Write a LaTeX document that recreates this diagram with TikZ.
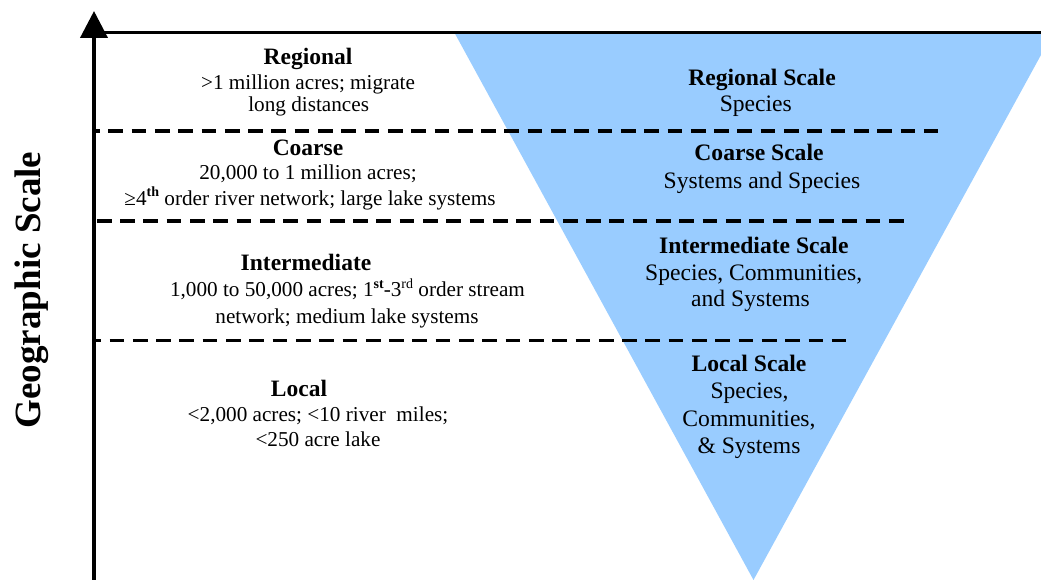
\documentclass[tikz,border=0pt]{standalone}
\usepackage{fontspec}
\setmainfont{Liberation Serif}
\usetikzlibrary{arrows.meta}
\definecolor{triblue}{RGB}{153,204,255}
\newcommand\supb[1]{\raisebox{0.38em}{\fontsize{14}{14}\selectfont\bfseries #1}}
\newcommand\supn[1]{\raisebox{0.38em}{\fontsize{14}{14}\selectfont #1}}
\begin{document}
\begin{tikzpicture}[x=1pt,y=-1pt,
  lbody/.style={anchor=base,inner sep=0pt,font=\fontsize{21.2}{24}\selectfont},
  lhead/.style={anchor=base,inner sep=0pt,font=\fontsize{23.5}{27}\selectfont\bfseries},
  rhead/.style={anchor=base,inner sep=0pt,font=\fontsize{23.6}{27}\selectfont\bfseries},
  rbody/.style={anchor=base,inner sep=0pt,font=\fontsize{23.6}{27}\selectfont},
  divider/.style={line width=3.6pt,dash pattern=on 14.7pt off 8.6pt},
  axisline/.style={line width=4pt,-{Triangle[length=27pt,width=27pt]}},
  topline/.style={line width=2.5pt},
  axislabel/.style={anchor=base,inner sep=0pt,rotate=90,font=\fontsize{37}{40}\selectfont\bfseries}
]
\useasboundingbox (0,0) rectangle (1041,580);
% inverted triangle
\begin{scope}
  \clip (0,0) rectangle (1041,580);
  \fill[triblue] (454.6,33) -- (1053,33) -- (753.5,580) -- cycle;
\end{scope}
% axes
\coordinate (axisbot) at (94,580);
\coordinate (axistop) at (94,11);
\coordinate (topL) at (94,32.5);
\coordinate (topR) at (1041,32.5);
\draw[topline] (topL) -- (topR);
\draw[axisline] (axisbot) -- (axistop);
% dividers
\coordinate (d1a) at (95,130.8); \coordinate (d1b) at (938,130.8);
\coordinate (d2a) at (95,220.8); \coordinate (d2b) at (903.5,220.8);
\coordinate (d3a) at (95,340.5); \coordinate (d3b) at (845.5,340.5);
\draw[divider,dash phase=10pt] (d1a) -- (d1b);
\draw[divider,dash phase=21.5pt] (d2a) -- (d2b);
\draw[divider,dash phase=8.8pt] (d3a) -- (d3b);
% axis label
\node[axislabel] (glabel) at (40,290) {Geographic Scale};
% left texts
\node[lhead] (regH) at (308,64.3) {Regional};
\node[lbody] (reg1) at (308,90) {>1 million acres; migrate};
\node[lbody] (reg2) at (308.7,111.7) {long distances};
\node[lhead] (coaH) at (308,156) {Coarse};
\node[lbody] (coa1) at (308,179.3) {20,000 to 1 million acres;};
\node[lbody] (coa2) at (310,205) {≥4\supb{th} order river network; large lake systems};
\node[lhead] (intH) at (306,270.6) {Intermediate};
\node[lbody] (int1) at (347.5,296.5) {1,000 to 50,000 acres; 1\supb{st}-3\supn{rd} order stream};
\node[lbody] (int2) at (347,323) {network; medium lake systems};
\node[lhead] (locH) at (299,396) {Local};
\node[lbody] (loc1) at (318,421) {<2,000 acres; <10 river\ \ miles;};
\node[lbody] (loc2) at (318,446) {<250 acre lake};
% right texts
\node[rhead] (rRegH) at (762,86) {Regional Scale};
\node[rbody] (rReg1) at (755.8,111.7) {Species};
\node[rhead] (rCoaH) at (759,160.7) {Coarse Scale};
\node[rbody] (rCoa1) at (762,188.3) {Systems and Species};
\node[rhead] (rIntH) at (753.8,253.3) {Intermediate Scale};
\node[rbody] (rInt1) at (753.7,280) {Species, Communities,};
\node[rbody] (rInt2) at (750.5,306.7) {and Systems};
\node[rhead] (rLocH) at (749,371.7) {Local Scale};
\node[rbody] (rLoc1) at (749.5,398.3) {Species,};
\node[rbody] (rLoc2) at (749,426) {Communities,};
\node[rbody] (rLoc3) at (749,453.3) {\& Systems};
\end{tikzpicture}
\end{document}
